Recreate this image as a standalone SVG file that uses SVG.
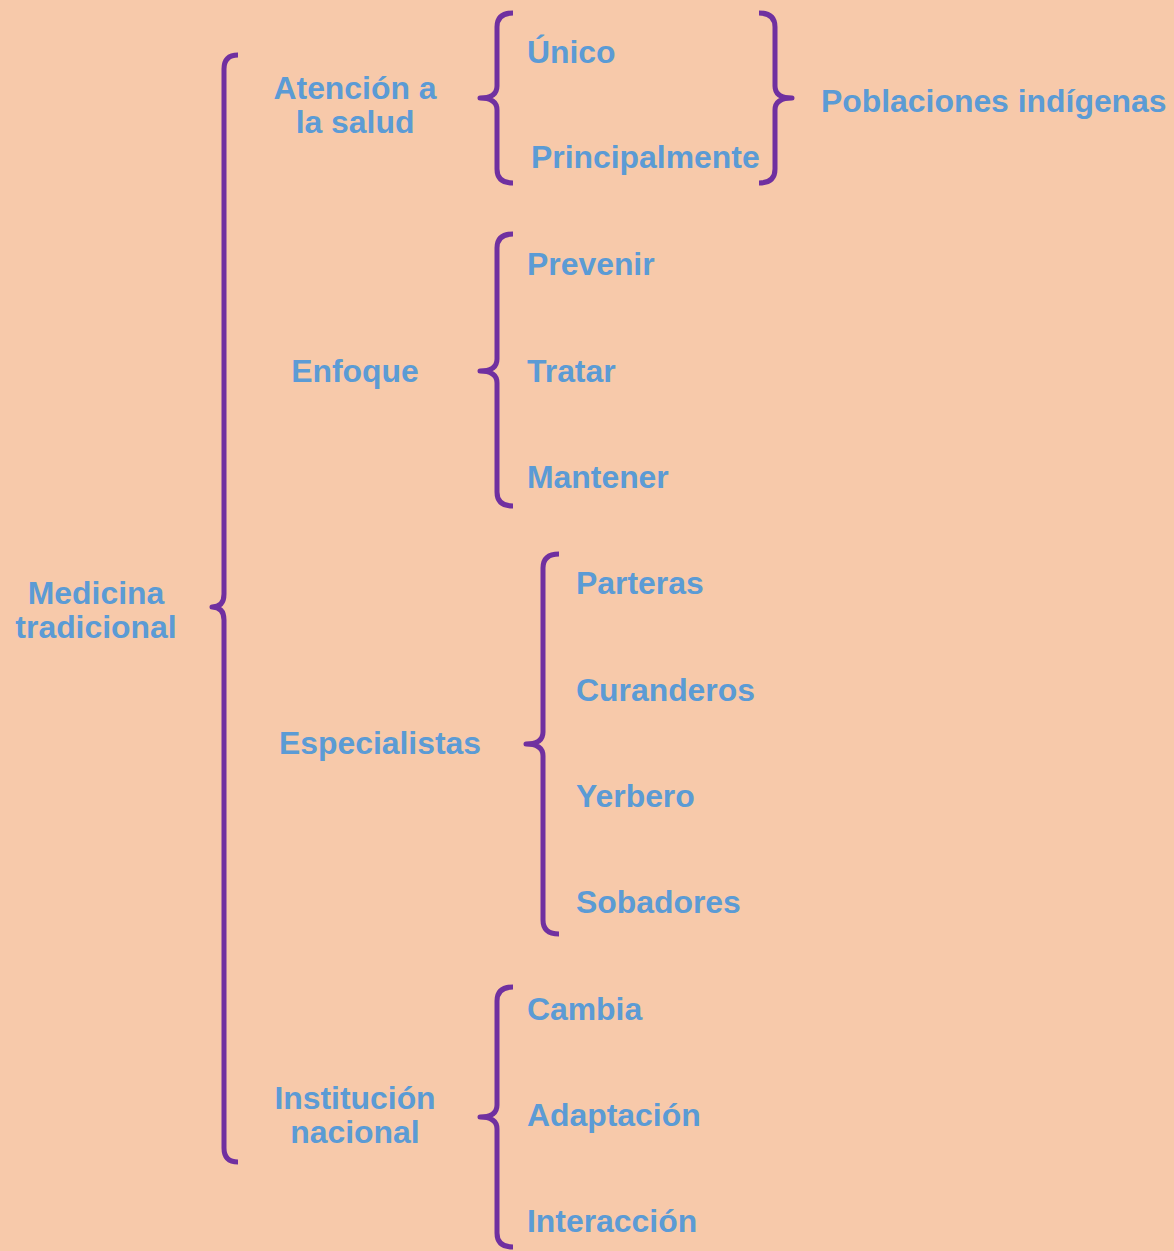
<svg xmlns="http://www.w3.org/2000/svg" width="1174" height="1251" viewBox="0 0 1174 1251">
<style>
.b{fill:none;stroke:#7030A0;stroke-width:5;stroke-linecap:butt;stroke-linejoin:round}
text{font-family:"Liberation Sans",Arial,sans-serif;font-weight:bold;font-size:31.9px;fill:#5B9BD5}
.c{text-anchor:middle}
</style>
<rect width="1174" height="1251" fill="#F7C9AA"/>
<g id="connectors">
<path class="b" d="M238,55 Q224,55 224,69 L224,594 Q224,607 212,607 Q224,607 224,620 L224,1148 Q224,1162 238,1162"/>
<path class="b" d="M513,13 Q497,13 497,27 L497,86 Q497,98 480,98 Q497,98 497,110 L497,169 Q497,183 513,183"/>
<path class="b" d="M759,13 Q775,13 775,27 L775,86 Q775,98 792,98 Q775,98 775,110 L775,169 Q775,183 759,183"/>
<path class="b" d="M513,234 Q497,234 497,248 L497,359 Q497,371 480,371 Q497,371 497,383 L497,492 Q497,506 513,506"/>
<path class="b" d="M559,554 Q543,554 543,568 L543,732 Q543,744 526,744 Q543,744 543,756 L543,920 Q543,934 559,934"/>
<path class="b" d="M513,987 Q497,987 497,1001 L497,1105 Q497,1117 480,1117 Q497,1117 497,1129 L497,1233 Q497,1247 513,1247"/>
</g>
<g id="medicina"><text class="c" x="96" y="604">Medicina</text><text class="c" x="96" y="638">tradicional</text></g>
<g id="atencion"><text class="c" x="355" y="99">Atención a</text><text class="c" x="355" y="133">la salud</text></g>
<g id="enfoque"><text class="c" x="355" y="382">Enfoque</text></g>
<g id="especialistas"><text class="c" x="380" y="754">Especialistas</text></g>
<g id="institucion"><text class="c" x="355" y="1109">Institución</text><text class="c" x="355" y="1143">nacional</text></g>
<g id="unico"><text x="527" y="63">Único</text></g>
<g id="principalmente"><text x="531" y="168">Principalmente</text></g>
<g id="poblaciones"><text x="821" y="112">Poblaciones indígenas</text></g>
<g id="prevenir"><text x="527" y="275">Prevenir</text></g>
<g id="tratar"><text x="527" y="382">Tratar</text></g>
<g id="mantener"><text x="527" y="488">Mantener</text></g>
<g id="parteras"><text x="576" y="594">Parteras</text></g>
<g id="curanderos"><text x="576" y="701">Curanderos</text></g>
<g id="yerbero"><text x="576" y="807">Yerbero</text></g>
<g id="sobadores"><text x="576" y="913">Sobadores</text></g>
<g id="cambia"><text x="527" y="1020">Cambia</text></g>
<g id="adaptacion"><text x="527" y="1126">Adaptación</text></g>
<g id="interaccion"><text x="527" y="1232">Interacción</text></g>
</svg>
